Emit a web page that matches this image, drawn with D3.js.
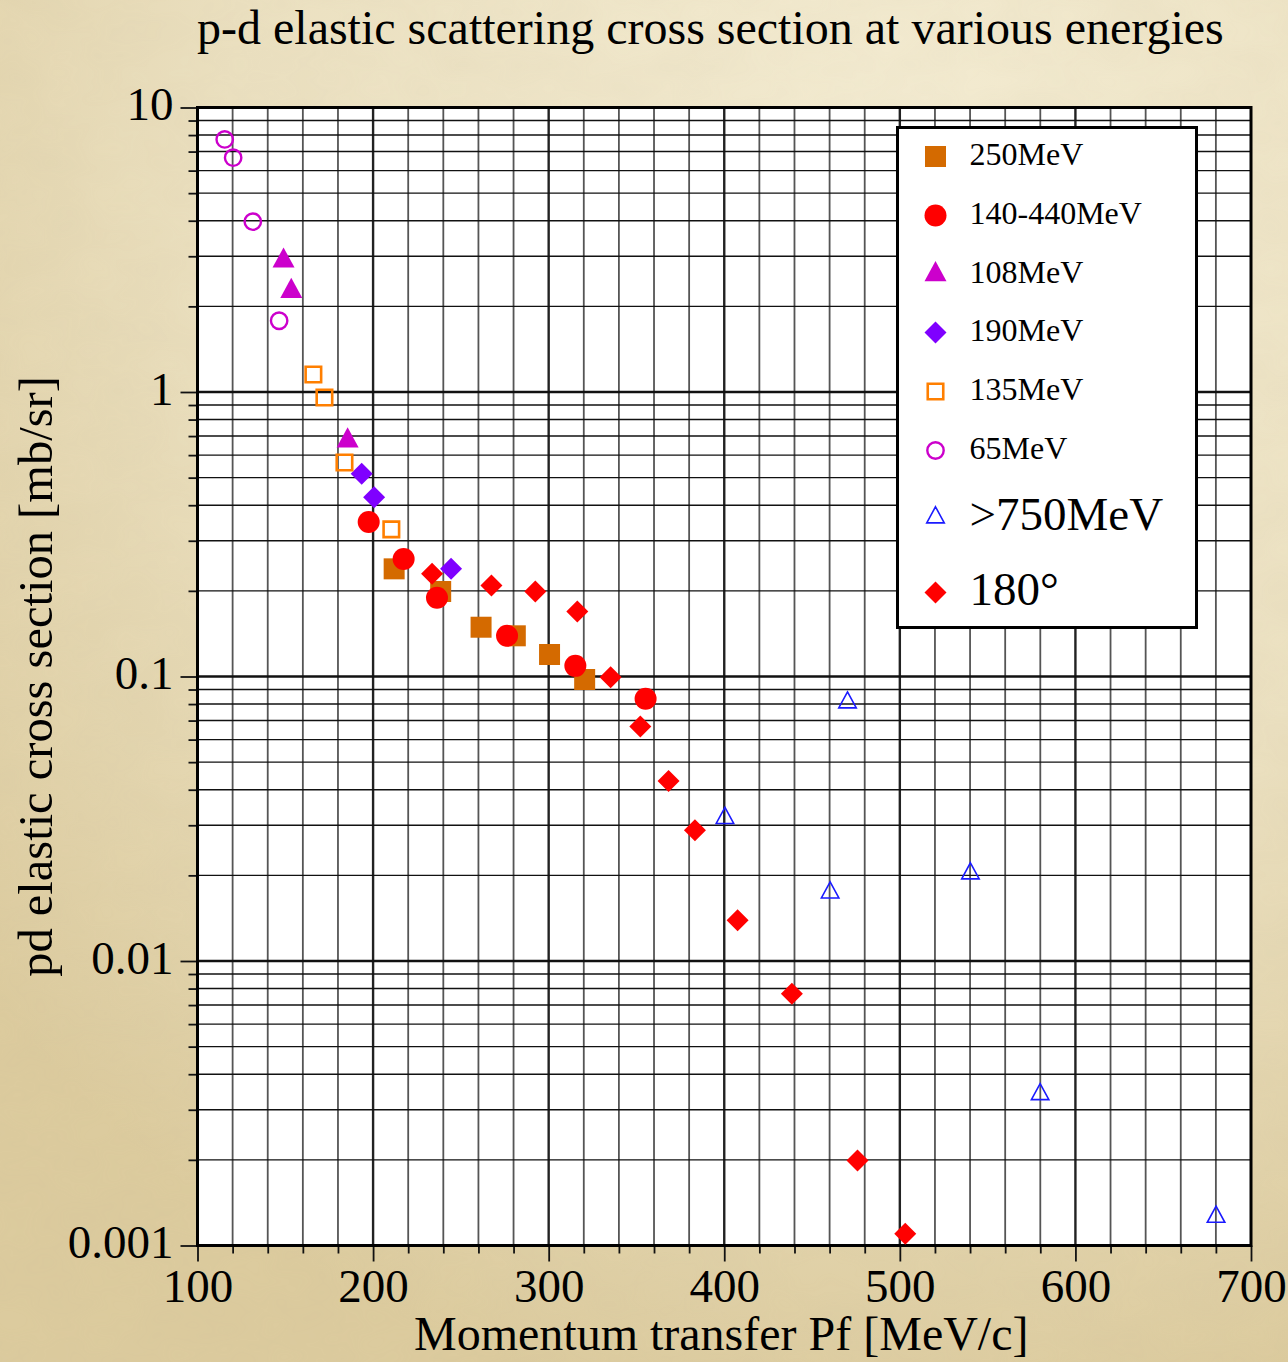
<!DOCTYPE html>
<html>
<head>
<meta charset="utf-8">
<script src="https://cdn.jsdelivr.net/npm/d3@7"></script>
<style>
  html, body { margin: 0; padding: 0; background: #e9dfc1; }
  svg { display: block; }
  text { font-family: "Liberation Serif", "DejaVu Serif", serif; fill: #000; }
</style>
</head>
<body>
<svg id="chart" width="1288" height="1362"></svg>
<script>
// ---- data: momentum transfer Pf [MeV/c] vs. cross section [mb/sr] ----
const xTickValues = [100, 200, 300, 400, 500, 600, 700];
const yTickValues = [10, 1, 0.1, 0.01, 0.001];
const yTickLabels = ["10", "1", "0.1", "0.01", "0.001"];

const seriesNames = ["250MeV", "140-440MeV", "108MeV", "190MeV", "135MeV", "65MeV", ">750MeV", "180°"];

const data250 = [[212, 0.239], [238.5, 0.199], [261.5, 0.149], [281, 0.139], [300.5, 0.1195], [320.5, 0.0976]];
const data140to440 = [[197.5, 0.349], [217.4, 0.259], [236.4, 0.189], [276.3, 0.139], [315.2, 0.109], [355.2, 0.0835]];
const data108 = [[149, 2.89], [153.4, 2.26], [185.5, 0.674]];
const data190 = [[193.5, 0.516], [200.6, 0.427], [244.4, 0.239]];
const data135 = [[166, 1.152], [172.3, 0.956], [183.7, 0.565], [210.4, 0.329]];
const data65 = [[115.5, 7.72], [120.3, 6.66], [131.5, 3.97], [146.5, 1.78]];
const data750 = [[400.4, 0.0318], [460.3, 0.0174], [470.2, 0.081], [540.2, 0.0203], [579.9, 0.0034], [680.1, 0.00126]];
const data180deg = [[233.6, 0.2296], [267.4, 0.2089], [292.4, 0.199], [316.3, 0.1693], [335.3, 0.0994], [352.2, 0.0667],
                    [368.3, 0.0429], [383.3, 0.0288], [407.6, 0.0139], [438.5, 0.00767], [475.9, 0.00199], [503.1, 0.0011]];

// ---- layout ----
const W = 1288, H = 1362;
const plot = { left: 197.5, right: 1251, top: 107.5, bottom: 1245.5 };

const svg = d3.select("#chart");
const defs = svg.append("defs");

// parchment backdrop
const grad = defs.append("radialGradient").attr("id", "paper")
  .attr("cx", "70%").attr("cy", "10%").attr("r", "95%");
grad.append("stop").attr("offset", "0%").attr("stop-color", "#f3ebd1");
grad.append("stop").attr("offset", "55%").attr("stop-color", "#ebe0c0");
grad.append("stop").attr("offset", "100%").attr("stop-color", "#dccb9e");

const grain = defs.append("filter").attr("id", "grain").attr("x", 0).attr("y", 0).attr("width", "100%").attr("height", "100%");
grain.append("feTurbulence").attr("type", "fractalNoise").attr("baseFrequency", "0.012 0.02").attr("numOctaves", 3).attr("seed", 7);
grain.append("feColorMatrix").attr("values", "0 0 0 0 0.55  0 0 0 0 0.47  0 0 0 0 0.30  0 0 0 0.22 -0.05");

svg.append("rect").attr("width", W).attr("height", H).attr("fill", "url(#paper)");
svg.append("rect").attr("width", W).attr("height", H).attr("filter", "url(#grain)").attr("opacity", 0.6);

// ---- scales ----
const x = d3.scaleLinear().domain([100, 700]).range([plot.left, plot.right]);
const y = d3.scaleLog().domain([0.001, 10]).range([plot.bottom, plot.top]);

// plot area
svg.append("rect")
  .attr("x", plot.left).attr("y", plot.top)
  .attr("width", plot.right - plot.left).attr("height", plot.bottom - plot.top)
  .attr("fill", "#fff");

// ---- grid ----
const grid = svg.append("g");
const xMinor = d3.range(120, 700, 20);
grid.selectAll("line.vx").data(xMinor).join("line")
  .attr("x1", d => x(d)).attr("x2", d => x(d))
  .attr("y1", plot.top).attr("y2", plot.bottom)
  .attr("stroke", d => d % 100 === 0 ? "#222" : "#555")
  .attr("stroke-width", d => d % 100 === 0 ? 2.4 : 1.8);

const yGrid = y.ticks().filter(v => v > 0.001 * 1.0001 && v < 10 / 1.0001);
const isDecade = v => Math.abs(Math.log10(v) - Math.round(Math.log10(v))) < 1e-6;
grid.selectAll("line.hy").data(yGrid).join("line")
  .attr("x1", plot.left).attr("x2", plot.right)
  .attr("y1", d => y(d)).attr("y2", d => y(d))
  .attr("stroke", "#111")
  .attr("stroke-width", d => isDecade(d) ? 2.4 : 1.4);

// ---- axes ----
const fontSize = 47;
const xMajor = d3.axisBottom(x).tickValues(xTickValues).tickSize(16).tickPadding(6).tickFormat(d3.format("d"));
const xMinorAxis = d3.axisBottom(x).tickValues(d3.range(120, 700, 20).filter(v => v % 100 !== 0)).tickSize(8).tickFormat("");
const yMajor = d3.axisLeft(y).tickValues(yTickValues).tickSize(17).tickPadding(5)
  .tickFormat((d, i) => yTickLabels[i]);
const yMinorAxis = d3.axisLeft(y).tickValues(y.ticks().filter(v => !isDecade(v))).tickSize(9).tickFormat("");

function styleAxis(g) {
  g.select(".domain").remove();
  g.selectAll(".tick line").attr("stroke", "#111").attr("stroke-width", 1.8);
  g.selectAll(".tick text")
    .attr("font-family", "Liberation Serif, serif")
    .attr("font-size", fontSize).attr("fill", "#000");
}

svg.append("g").attr("transform", `translate(0,${plot.bottom})`).call(xMinorAxis).call(styleAxis);
svg.append("g").attr("transform", `translate(0,${plot.bottom})`).call(xMajor).call(styleAxis)
  .selectAll(".tick text").attr("dy", "0.71em").attr("y", 23);
svg.append("g").attr("transform", `translate(${plot.left},0)`).call(yMinorAxis).call(styleAxis);
svg.append("g").attr("transform", `translate(${plot.left},0)`).call(yMajor).call(styleAxis)
  .selectAll(".tick text").attr("x", -24).attr("dy", "0.26em");

// frame
svg.append("rect")
  .attr("x", plot.left).attr("y", plot.top)
  .attr("width", plot.right - plot.left).attr("height", plot.bottom - plot.top)
  .attr("fill", "none").attr("stroke", "#000").attr("stroke-width", 3);

// ---- marker shapes ----
const triangleType = {
  draw(ctx, size) {
    // isoceles triangle centred on its centroid; size = width^2
    const w = Math.sqrt(size), h = w * 0.92;
    ctx.moveTo(0, -2 * h / 3);
    ctx.lineTo(w / 2, h / 3);
    ctx.lineTo(-w / 2, h / 3);
    ctx.closePath();
  }
};
const diamondType = {
  draw(ctx, size) {
    const r = Math.sqrt(size) / 2; // half-diagonal
    ctx.moveTo(0, -r); ctx.lineTo(r, 0); ctx.lineTo(0, r); ctx.lineTo(-r, 0); ctx.closePath();
  }
};

const styles = [
  { data: data250,      type: d3.symbolSquare, size: 21 * 21, fill: "#d46a00", stroke: "none", sw: 0 },
  { data: data140to440, type: d3.symbolCircle, size: Math.PI * 11 * 11, fill: "#ff0000", stroke: "none", sw: 0 },
  { data: data108,      type: triangleType,    size: 22 * 22, fill: "#cc00cc", stroke: "none", sw: 0 },
  { data: data190,      type: diamondType,     size: 22 * 22, fill: "#7f00ff", stroke: "none", sw: 0 },
  { data: data135,      type: d3.symbolSquare, size: 15.5 * 15.5, fill: "none", stroke: "#ff7f00", sw: 2.6 },
  { data: data65,       type: d3.symbolCircle, size: Math.PI * 8.2 * 8.2, fill: "none", stroke: "#cc00cc", sw: 2.4 },
  { data: data750,      type: triangleType,    size: 17.5 * 17.5, fill: "none", stroke: "#1a1aff", sw: 1.6 },
  { data: data180deg,   type: diamondType,     size: 22 * 22, fill: "#ff0000", stroke: "none", sw: 0 }
];

const marks = svg.append("g");
styles.forEach(s => {
  marks.append("g").selectAll("path").data(s.data).join("path")
    .attr("transform", d => `translate(${x(d[0])},${y(d[1])})`)
    .attr("d", d3.symbol().type(s.type).size(s.size))
    .attr("fill", s.fill).attr("stroke", s.stroke).attr("stroke-width", s.sw);
});

// ---- legend ----
const legend = svg.append("g");
const lg = { x: 897.5, y: 127.5, w: 299, h: 500 };
legend.append("rect").attr("x", lg.x).attr("y", lg.y).attr("width", lg.w).attr("height", lg.h)
  .attr("fill", "#fff").attr("stroke", "#000").attr("stroke-width", 3);

const rowOffsets = [29, 88, 147, 205, 264, 323, 390, 465];
const rowFont = [32, 32, 32, 32, 32, 32, 47, 47];
seriesNames.forEach((name, i) => {
  const cy = lg.y + rowOffsets[i];
  const s = styles[i];
  legend.append("path")
    .attr("transform", `translate(${lg.x + 38},${cy})`)
    .attr("d", d3.symbol().type(s.type).size(s.size))
    .attr("fill", s.fill).attr("stroke", s.stroke).attr("stroke-width", s.sw);
  legend.append("text")
    .attr("x", lg.x + 72).attr("y", cy + (rowFont[i] > 40 ? 12 : 8))
    .attr("font-size", rowFont[i])
    .text(name);
});

// ---- titles ----
svg.append("text")
  .attr("x", 197).attr("y", 44)
  .attr("font-size", 48)
  .text("p-d elastic scattering cross section at various energies");

svg.append("text")
  .attr("x", (plot.left + plot.right) / 2 - 3).attr("y", 1350)
  .attr("text-anchor", "middle")
  .attr("font-size", 48)
  .text("Momentum transfer Pf [MeV/c]");

svg.append("text")
  .attr("transform", `translate(52,${(plot.top + plot.bottom) / 2}) rotate(-90)`)
  .attr("text-anchor", "middle")
  .attr("font-size", 48.5)
  .text("pd elastic cross section [mb/sr]");
</script>
</body>
</html>
